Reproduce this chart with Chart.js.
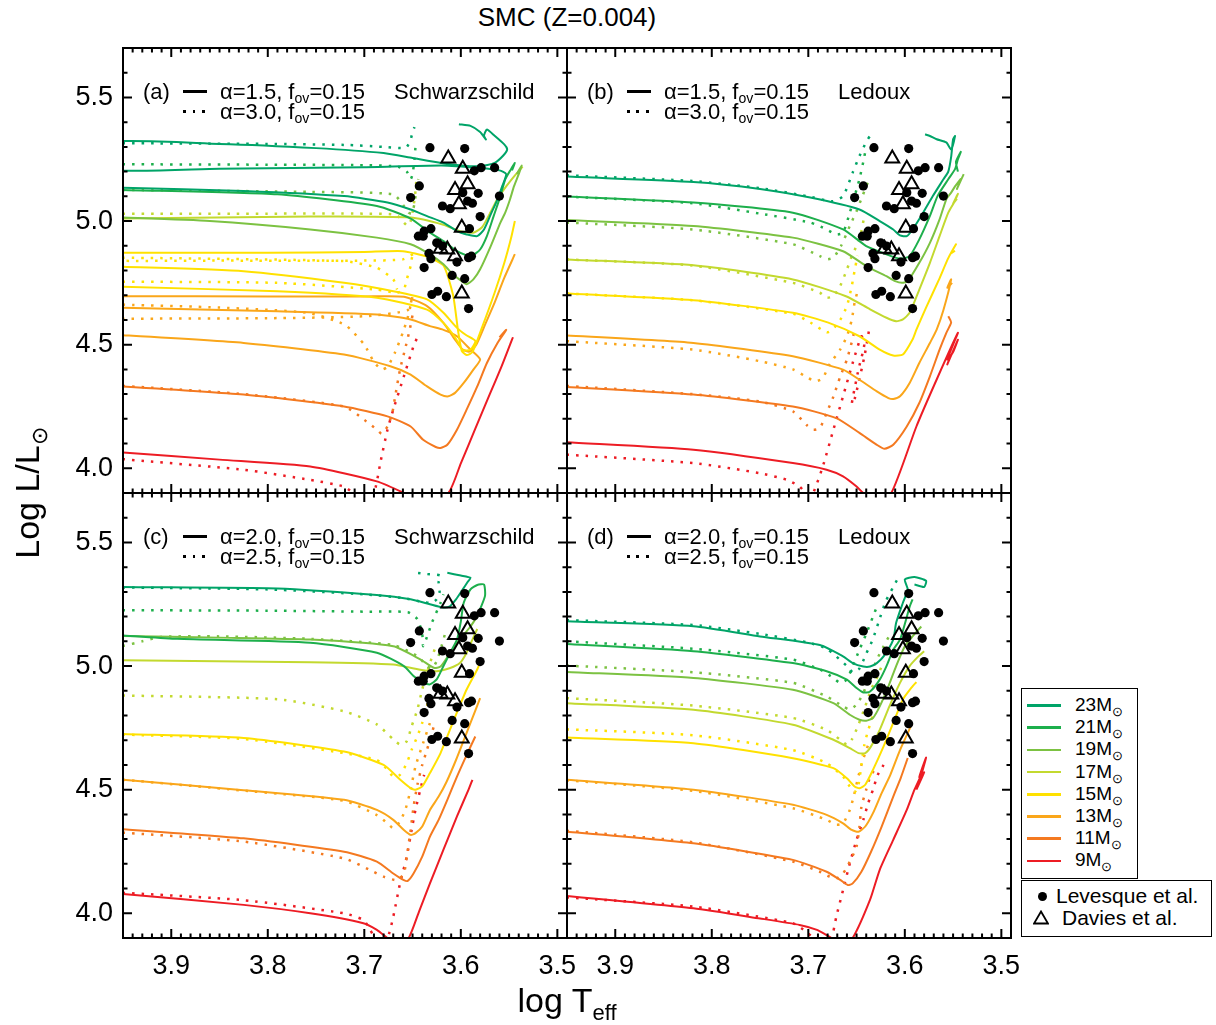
<!DOCTYPE html>
<html><head><meta charset="utf-8">
<script src="https://cdn.jsdelivr.net/npm/chart.js@4.4.1/dist/chart.umd.min.js"></script>
<style>
body{margin:0;background:#fff;width:1216px;height:1025px;position:relative;overflow:hidden;font-family:'Liberation Sans',Arial,Helvetica,sans-serif;color:#000;}
canvas{position:absolute;}
.t{position:absolute;white-space:nowrap;z-index:5;}
.sub{font-size:0.64em;position:relative;top:0.3em;}
.box{position:absolute;border:1.5px solid #000;box-sizing:border-box;z-index:5;background:#fff;}
</style></head><body>
<script>
// ---------------- DATA ----------------
const MASSES = [23, 21, 19, 17, 15, 13, 11, 9];
const X_TICKS = [3.9, 3.8, 3.7, 3.6, 3.5];
const Y_TICKS = [4.0, 4.5, 5.0, 5.5];
const X_MIN = 3.49, X_MAX = 3.95, Y_MIN = 3.9, Y_MAX = 5.7;

// Observations
const levesqueT = [3.632,3.596,3.586,3.579,3.565,3.643,3.652,3.598,3.582,3.560,3.619,3.611,3.593,3.588,3.580,3.631,3.638,3.644,3.639,3.625,3.619,3.633,3.631,3.604,3.592,3.589,3.638,3.609,3.596,3.630,3.624,3.615,3.592,3.591];
const levesqueL = [5.297,5.293,5.203,5.216,5.216,5.142,5.095,5.115,5.112,5.101,5.061,5.050,5.081,5.072,5.018,4.969,4.959,4.939,4.939,4.912,4.899,4.869,4.848,4.834,4.852,4.858,4.812,4.780,4.767,4.703,4.716,4.694,4.646,4.969];
const daviesT = [3.613,3.598,3.593,3.606,3.602,3.599,3.621,3.614,3.606,3.599];
const daviesL = [5.253,5.212,5.149,5.126,5.068,4.973,4.888,4.885,4.858,4.707];

// Panel (a) Schwarzschild: solid alpha=1.5, dotted alpha=3.0
const aS23 = [[3.97,5.137],[3.95,5.135],[3.825,5.122],[3.721,5.101],[3.676,5.075],[3.652,5.047],[3.635,5.02],[3.618,4.994],[3.604,4.959],[3.594,4.946],[3.583,4.939],[3.576,4.966],[3.569,5.027],[3.562,5.088],[3.557,5.142],[3.553,5.19],[3.56,5.205],[3.58,5.215],[3.62,5.225],[3.70,5.218],[3.85,5.212],[3.97,5.21],[3.97,5.318],[3.85,5.312],[3.75,5.295],[3.68,5.275],[3.65,5.255],[3.62,5.235],[3.60,5.225],[3.58,5.222],[3.565,5.235],[3.556,5.265],[3.552,5.29],[3.555,5.31],[3.565,5.345],[3.573,5.37],[3.576,5.345],[3.574,5.33],[3.58,5.36],[3.59,5.385],[3.602,5.392]];
const aS21 = [[3.97,5.128],[3.95,5.126],[3.79,5.108],[3.687,5.061],[3.652,5.01],[3.632,4.953],[3.618,4.919],[3.604,4.878],[3.594,4.861],[3.589,4.858],[3.58,4.885],[3.573,4.939],[3.566,5.02],[3.559,5.101],[3.554,5.169],[3.548,5.21],[3.544,5.235],[3.547,5.205]];
const aS19 = [[3.97,5.016],[3.95,5.014],[3.86,5.0],[3.756,4.966],[3.687,4.933],[3.652,4.906],[3.632,4.865],[3.618,4.825],[3.608,4.784],[3.599,4.757],[3.594,4.744],[3.587,4.764],[3.58,4.805],[3.569,4.899],[3.559,4.994],[3.554,5.034],[3.549,5.088],[3.545,5.14],[3.54,5.19],[3.537,5.225],[3.542,5.19]];
const aS17 = [[3.97,5.01],[3.95,5.01],[3.756,5.018],[3.652,5.014],[3.618,4.985],[3.601,4.959],[3.587,4.953],[3.578,4.975],[3.57,5.03],[3.562,5.09],[3.553,5.14],[3.545,5.18],[3.536,5.22]];
const aS15 = [[3.97,4.736],[3.95,4.734],[3.79,4.716],[3.687,4.69],[3.635,4.642],[3.618,4.588],[3.606,4.53],[3.598,4.478],[3.59,4.48],[3.585,4.515],[3.595,4.54],[3.604,4.568],[3.618,4.629],[3.635,4.683],[3.67,4.716],[3.721,4.75],[3.825,4.797],[3.95,4.815],[3.97,4.817],[3.97,4.874],[3.95,4.872],[3.80,4.872],[3.70,4.875],[3.66,4.878],[3.635,4.856],[3.618,4.82],[3.608,4.70],[3.603,4.56],[3.599,4.475],[3.594,4.458],[3.588,4.47],[3.578,4.57],[3.565,4.71],[3.555,4.83],[3.548,4.93],[3.544,5.0]];
const aS13 = [[3.97,4.54],[3.95,4.538],[3.825,4.507],[3.721,4.46],[3.673,4.413],[3.652,4.379],[3.635,4.331],[3.621,4.298],[3.613,4.291],[3.606,4.305],[3.597,4.345],[3.587,4.399],[3.58,4.44],[3.59,4.48],[3.604,4.534],[3.618,4.56],[3.632,4.575],[3.652,4.602],[3.687,4.622],[3.79,4.635],[3.95,4.649],[3.97,4.65],[3.97,4.698],[3.95,4.696],[3.80,4.695],[3.70,4.695],[3.659,4.694],[3.635,4.656],[3.618,4.588],[3.606,4.52],[3.598,4.48],[3.591,4.472],[3.584,4.50],[3.575,4.58],[3.565,4.67],[3.555,4.77],[3.544,4.866]];
const aS11 = [[3.97,4.333],[3.95,4.331],[3.825,4.298],[3.721,4.25],[3.676,4.21],[3.652,4.169],[3.639,4.115],[3.626,4.086],[3.621,4.082],[3.614,4.095],[3.604,4.156],[3.594,4.237],[3.583,4.331],[3.573,4.426],[3.562,4.507],[3.553,4.56],[3.56,4.53]];
const aS9 = [[3.97,4.07],[3.95,4.064],[3.85,4.035],[3.756,4.007],[3.687,3.947],[3.659,3.90],[3.64,3.86],[3.613,3.90],[3.60,4.02],[3.585,4.16],[3.57,4.30],[3.558,4.41],[3.549,4.50],[3.546,4.53]];
const aD23 = [[3.97,5.318],[3.95,5.315],[3.80,5.312],[3.72,5.308],[3.68,5.30],[3.662,5.295],[3.656,5.30],[3.652,5.33],[3.65,5.36],[3.648,5.38]];
const aD21 = [[3.97,5.233],[3.95,5.23],[3.80,5.228],[3.70,5.226],[3.665,5.22],[3.656,5.20],[3.652,5.17],[3.65,5.19],[3.648,5.25],[3.647,5.30]];
const aD19 = [[3.97,5.128],[3.95,5.126],[3.756,5.118],[3.67,5.108],[3.659,5.061],[3.654,5.034],[3.651,5.03],[3.648,5.07],[3.646,5.13],[3.644,5.17]];
const aD17 = [[3.97,5.033],[3.95,5.03],[3.80,5.03],[3.70,5.03],[3.667,5.025],[3.659,4.994],[3.655,4.98],[3.652,5.0],[3.649,5.06],[3.647,5.12],[3.646,5.17]];
const aD15 = [[3.97,4.757],[3.95,4.755],[3.79,4.75],[3.687,4.723],[3.666,4.71],[3.659,4.723],[3.656,4.764],[3.652,4.818],[3.65,4.865],[3.648,4.87],[3.66,4.845],[3.70,4.84],[3.85,4.84],[3.97,4.84],[3.97,4.853],[3.95,4.852],[3.721,4.838],[3.687,4.811],[3.67,4.764],[3.666,4.723]];
const aD13 = [[3.97,4.664],[3.95,4.662],[3.85,4.65],[3.759,4.629],[3.72,4.58],[3.70,4.50],[3.69,4.43],[3.682,4.40],[3.676,4.41],[3.668,4.47],[3.66,4.55],[3.655,4.61],[3.652,4.66],[3.65,4.70],[3.655,4.64],[3.70,4.615],[3.80,4.607],[3.95,4.605],[3.97,4.605]];
const aD11 = [[3.97,4.335],[3.95,4.333],[3.825,4.30],[3.721,4.25],[3.70,4.196],[3.687,4.156],[3.682,4.14],[3.676,4.169],[3.671,4.224],[3.668,4.291],[3.663,4.399],[3.657,4.494],[3.653,4.56],[3.65,4.62]];
const aD9 = [[3.97,4.045],[3.95,4.037],[3.825,3.994],[3.756,3.953],[3.721,3.926],[3.71,3.895],[3.70,3.87],[3.69,3.90],[3.683,4.03],[3.676,4.156],[3.67,4.237],[3.659,4.372],[3.649,4.494],[3.645,4.53]];

// Panel (b) Ledoux: solid alpha=1.5, dotted alpha=3.0
const bS23 = [[3.97,5.185],[3.95,5.18],[3.819,5.158],[3.75,5.13],[3.698,5.095],[3.647,5.047],[3.626,5.0],[3.612,4.966],[3.605,4.942],[3.598,4.939],[3.592,4.966],[3.581,5.034],[3.571,5.101],[3.56,5.169],[3.555,5.20],[3.552,5.26],[3.55,5.331],[3.548,5.344],[3.552,5.29],[3.557,5.318],[3.567,5.331],[3.574,5.344],[3.579,5.351]];
const bS21 = [[3.97,5.103],[3.95,5.099],[3.819,5.075],[3.716,5.034],[3.664,4.966],[3.64,4.899],[3.619,4.865],[3.609,4.851],[3.602,4.849],[3.595,4.858],[3.585,4.926],[3.574,5.021],[3.566,5.102],[3.555,5.169],[3.548,5.21],[3.545,5.25],[3.542,5.28],[3.547,5.24],[3.545,5.2]];
const bS19 = [[3.97,5.008],[3.95,5.004],[3.819,4.98],[3.716,4.933],[3.664,4.878],[3.64,4.818],[3.619,4.777],[3.61,4.757],[3.603,4.75],[3.597,4.757],[3.585,4.831],[3.574,4.912],[3.564,5.007],[3.557,5.088],[3.552,5.115],[3.548,5.14],[3.542,5.17],[3.546,5.13],[3.539,5.19]];
const bS17 = [[3.97,4.85],[3.95,4.845],[3.819,4.821],[3.716,4.764],[3.661,4.696],[3.636,4.643],[3.619,4.609],[3.609,4.595],[3.602,4.602],[3.595,4.629],[3.585,4.723],[3.574,4.831],[3.564,4.939],[3.555,5.034],[3.549,5.075],[3.545,5.11],[3.55,5.07],[3.546,5.09]];
const bS15 = [[3.97,4.712],[3.95,4.707],[3.819,4.68],[3.716,4.629],[3.68,4.59],[3.647,4.534],[3.626,4.48],[3.612,4.456],[3.602,4.46],[3.592,4.521],[3.588,4.561],[3.578,4.65],[3.565,4.76],[3.555,4.85],[3.547,4.906],[3.552,4.87],[3.548,4.88]];
const bS13 = [[3.97,4.54],[3.95,4.537],[3.819,4.507],[3.716,4.453],[3.664,4.399],[3.647,4.358],[3.629,4.311],[3.617,4.284],[3.612,4.28],[3.605,4.291],[3.595,4.345],[3.585,4.426],[3.574,4.507],[3.567,4.561],[3.56,4.64],[3.552,4.764],[3.556,4.73],[3.551,4.75]];
const bS11 = [[3.97,4.333],[3.95,4.329],[3.819,4.298],[3.716,4.25],[3.671,4.203],[3.647,4.143],[3.629,4.095],[3.621,4.079],[3.612,4.095],[3.598,4.169],[3.585,4.264],[3.574,4.372],[3.564,4.48],[3.557,4.548],[3.552,4.59],[3.555,4.615]];
const bS9 = [[3.97,4.11],[3.95,4.105],[3.819,4.075],[3.716,4.021],[3.681,3.994],[3.664,3.967],[3.65,3.926],[3.643,3.90],[3.63,3.87],[3.614,3.90],[3.588,4.169],[3.567,4.359],[3.545,4.548],[3.556,4.44],[3.55,4.47],[3.545,4.52],[3.556,4.42],[3.552,4.46]];
const bD23 = [[3.97,5.19],[3.95,5.185],[3.82,5.162],[3.75,5.133],[3.70,5.10],[3.675,5.08],[3.664,5.101],[3.654,5.196],[3.647,5.263],[3.64,5.32],[3.636,5.344],[3.633,5.351]];
const bD21 = [[3.97,5.103],[3.95,5.099],[3.82,5.072],[3.75,5.03],[3.698,4.994],[3.681,4.966],[3.671,4.946],[3.664,4.953],[3.657,5.034],[3.652,5.101],[3.647,5.17],[3.643,5.24],[3.64,5.30]];
const bD19 = [[3.97,4.997],[3.95,4.994],[3.82,4.966],[3.716,4.906],[3.688,4.858],[3.681,4.845],[3.674,4.852],[3.666,4.9],[3.657,4.98],[3.65,5.04],[3.644,5.10],[3.638,5.16]];
const bD17 = [[3.97,4.85],[3.95,4.845],[3.82,4.82],[3.716,4.75],[3.688,4.71],[3.681,4.69],[3.674,4.696],[3.667,4.737],[3.66,4.804],[3.655,4.858],[3.65,4.9],[3.645,4.96],[3.642,5.02]];
const bD15 = [[3.97,4.712],[3.95,4.707],[3.82,4.68],[3.716,4.625],[3.698,4.59],[3.681,4.55],[3.675,4.56],[3.667,4.60],[3.66,4.656],[3.655,4.737],[3.652,4.80],[3.649,4.86]];
const bD13 = [[3.97,4.517],[3.95,4.514],[3.82,4.48],[3.75,4.433],[3.716,4.40],[3.70,4.365],[3.692,4.352],[3.685,4.365],[3.678,4.42],[3.667,4.48],[3.66,4.534],[3.655,4.60],[3.652,4.67],[3.648,4.73]];
const bD11 = [[3.97,4.335],[3.95,4.333],[3.82,4.30],[3.75,4.27],[3.716,4.23],[3.702,4.176],[3.695,4.156],[3.688,4.163],[3.681,4.224],[3.674,4.29],[3.667,4.37],[3.66,4.44],[3.655,4.51],[3.652,4.56]];
const bD9 = [[3.97,4.06],[3.95,4.055],[3.819,4.021],[3.75,3.98],[3.722,3.953],[3.709,3.926],[3.70,3.89],[3.695,3.90],[3.685,4.007],[3.674,4.156],[3.664,4.291],[3.654,4.426],[3.645,4.534],[3.642,4.50],[3.648,4.40],[3.655,4.26],[3.652,4.28],[3.642,4.45],[3.637,4.56]];

// Panel (c) Schwarzschild: solid alpha=2.0, dotted alpha=2.5
const cS23 = [[3.97,5.322],[3.95,5.32],[3.79,5.314],[3.687,5.287],[3.652,5.27],[3.632,5.25],[3.62,5.238],[3.612,5.24],[3.605,5.27],[3.598,5.31],[3.593,5.34],[3.59,5.357],[3.60,5.366],[3.614,5.377]];
const cS21 = [[3.97,5.127],[3.95,5.124],[3.894,5.11],[3.756,5.094],[3.687,5.054],[3.659,5.0],[3.649,4.96],[3.639,4.932],[3.632,4.926],[3.625,4.946],[3.618,5.0],[3.611,5.054],[3.604,5.107],[3.60,5.18],[3.597,5.256],[3.59,5.31],[3.583,5.328],[3.576,5.33],[3.575,5.283],[3.583,5.202]];
const cS19 = [[3.97,5.127],[3.95,5.122],[3.85,5.115],[3.756,5.107],[3.67,5.08],[3.642,5.027],[3.628,4.993],[3.621,4.998],[3.611,5.054],[3.601,5.107],[3.59,5.16],[3.583,5.2],[3.578,5.22]];
const cS17 = [[3.97,5.025],[3.95,5.023],[3.756,5.015],[3.67,5.006],[3.642,4.985],[3.625,4.979],[3.611,4.992],[3.601,5.012],[3.594,5.054],[3.588,5.107],[3.583,5.15]];
const cS15 = [[3.97,4.728],[3.95,4.725],[3.825,4.709],[3.721,4.654],[3.68,4.60],[3.663,4.541],[3.652,4.506],[3.647,4.50],[3.64,4.513],[3.632,4.567],[3.621,4.648],[3.607,4.784],[3.594,4.905],[3.583,4.986],[3.58,5.013]];
const cS13 = [[3.97,4.543],[3.95,4.54],[3.828,4.499],[3.721,4.459],[3.687,4.418],[3.67,4.378],[3.659,4.337],[3.652,4.317],[3.647,4.324],[3.64,4.351],[3.632,4.418],[3.623,4.472],[3.615,4.53],[3.605,4.62],[3.595,4.72],[3.585,4.82],[3.58,4.87]];
const cS11 = [[3.97,4.343],[3.95,4.34],[3.825,4.303],[3.721,4.249],[3.687,4.209],[3.67,4.161],[3.659,4.134],[3.655,4.131],[3.649,4.161],[3.64,4.229],[3.632,4.31],[3.623,4.378],[3.614,4.459],[3.604,4.553],[3.594,4.64],[3.585,4.715]];
const cS9 = [[3.97,4.082],[3.95,4.078],[3.825,4.034],[3.756,4.0],[3.701,3.96],[3.687,3.933],[3.676,3.90],[3.665,3.87],[3.654,3.90],[3.643,4.01],[3.632,4.121],[3.618,4.257],[3.604,4.392],[3.592,4.50],[3.588,4.54]];
const cD23 = [[3.97,5.322],[3.95,5.318],[3.80,5.31],[3.70,5.29],[3.66,5.275],[3.64,5.26],[3.63,5.255],[3.625,5.27],[3.622,5.30],[3.623,5.34],[3.621,5.366],[3.635,5.372],[3.647,5.378]];
const cD21 = [[3.97,5.228],[3.95,5.226],[3.80,5.224],[3.70,5.22],[3.655,5.218],[3.645,5.19],[3.64,5.13],[3.639,5.08],[3.634,5.13],[3.63,5.175],[3.621,5.256],[3.618,5.29]];
const cD19 = [[3.97,5.078],[3.95,5.082],[3.93,5.10],[3.91,5.118],[3.85,5.12],[3.756,5.11],[3.67,5.085],[3.645,5.04],[3.635,5.0],[3.63,4.99],[3.625,5.02],[3.62,5.08],[3.615,5.15]];
const cD17 = [[3.97,4.884],[3.95,4.881],[3.79,4.866],[3.721,4.817],[3.687,4.764],[3.67,4.703],[3.663,4.683],[3.656,4.696],[3.651,4.756],[3.645,4.824],[3.64,4.905],[3.633,5.0],[3.626,5.08]];
const cD15 = [[3.97,4.728],[3.95,4.723],[3.825,4.705],[3.721,4.648],[3.687,4.62],[3.676,4.581],[3.67,4.553],[3.663,4.56],[3.656,4.607],[3.651,4.661],[3.645,4.716],[3.64,4.77],[3.635,4.838],[3.632,4.88]];
const cD13 = [[3.97,4.543],[3.95,4.54],[3.828,4.497],[3.721,4.455],[3.687,4.397],[3.676,4.364],[3.67,4.344],[3.663,4.371],[3.657,4.425],[3.652,4.50],[3.647,4.594],[3.639,4.689],[3.632,4.77]];
const cD11 = [[3.97,4.33],[3.95,4.326],[3.825,4.29],[3.721,4.222],[3.694,4.175],[3.68,4.148],[3.666,4.134],[3.659,4.161],[3.656,4.229],[3.652,4.337],[3.649,4.43],[3.645,4.52],[3.64,4.6],[3.635,4.662],[3.628,4.756]];
const cD9 = [[3.97,4.086],[3.95,4.083],[3.825,4.053],[3.721,4.0],[3.701,3.973],[3.694,3.933],[3.685,3.88],[3.676,3.9],[3.67,3.986],[3.663,4.121],[3.656,4.229],[3.651,4.337],[3.647,4.418],[3.642,4.50],[3.638,4.56]];

// Panel (d) Ledoux: solid alpha=2.0, dotted alpha=2.5
const dS23 = [[3.97,5.186],[3.95,5.181],[3.819,5.161],[3.75,5.12],[3.688,5.085],[3.664,5.039],[3.654,5.012],[3.643,4.998],[3.636,4.998],[3.629,5.012],[3.622,5.039],[3.612,5.107],[3.609,5.175],[3.602,5.256],[3.597,5.31],[3.60,5.35],[3.59,5.36],[3.578,5.345],[3.58,5.32],[3.59,5.33]];
const dS21 = [[3.97,5.093],[3.95,5.089],[3.819,5.06],[3.716,5.012],[3.681,4.979],[3.66,4.945],[3.65,4.911],[3.643,4.893],[3.636,4.897],[3.626,4.945],[3.619,5.0],[3.612,5.066],[3.605,5.107],[3.60,5.17],[3.595,5.24],[3.592,5.27]];
const dS19 = [[3.97,4.98],[3.95,4.976],[3.819,4.952],[3.716,4.904],[3.674,4.85],[3.657,4.803],[3.647,4.783],[3.64,4.779],[3.633,4.79],[3.626,4.837],[3.617,4.918],[3.609,5.0],[3.60,5.08],[3.592,5.12],[3.583,5.16]];
const dS17 = [[3.97,4.854],[3.95,4.85],[3.819,4.823],[3.716,4.763],[3.674,4.702],[3.657,4.668],[3.648,4.648],[3.641,4.648],[3.635,4.675],[3.626,4.742],[3.616,4.837],[3.605,4.932],[3.595,5.0],[3.586,5.039],[3.58,5.06]];
const dS15 = [[3.97,4.715],[3.95,4.711],[3.819,4.688],[3.716,4.627],[3.674,4.587],[3.66,4.546],[3.652,4.513],[3.647,4.506],[3.641,4.52],[3.633,4.58],[3.622,4.675],[3.612,4.77],[3.602,4.865],[3.592,4.918],[3.588,4.935]];
const dS13 = [[3.97,4.545],[3.95,4.54],[3.819,4.50],[3.716,4.439],[3.681,4.398],[3.664,4.364],[3.655,4.337],[3.648,4.33],[3.641,4.351],[3.633,4.405],[3.624,4.486],[3.615,4.56],[3.605,4.66],[3.593,4.763]];
const dS11 = [[3.97,4.334],[3.95,4.33],[3.819,4.283],[3.716,4.216],[3.681,4.168],[3.667,4.135],[3.659,4.114],[3.654,4.121],[3.645,4.168],[3.635,4.249],[3.624,4.351],[3.612,4.472],[3.604,4.55],[3.597,4.628]];
const dS9 = [[3.97,4.075],[3.95,4.07],[3.819,4.02],[3.75,3.979],[3.709,3.953],[3.691,3.933],[3.681,3.912],[3.676,3.90],[3.665,3.87],[3.654,3.90],[3.636,4.055],[3.626,4.176],[3.612,4.297],[3.598,4.418],[3.59,4.50],[3.583,4.56],[3.578,4.63],[3.585,4.55],[3.58,4.57],[3.588,4.50]];
const dD23 = [[3.97,5.19],[3.95,5.186],[3.819,5.166],[3.75,5.13],[3.70,5.095],[3.681,5.07],[3.66,5.0],[3.654,4.975],[3.647,4.99],[3.64,5.05],[3.633,5.11],[3.627,5.18],[3.62,5.26],[3.612,5.32],[3.605,5.37]];
const dD21 = [[3.97,5.104],[3.95,5.1],[3.819,5.07],[3.716,5.026],[3.688,4.986],[3.674,4.952],[3.667,4.932],[3.66,4.946],[3.654,5.0],[3.647,5.066],[3.64,5.13],[3.633,5.2],[3.628,5.25]];
const dD19 = [[3.97,5.006],[3.95,5.002],[3.819,4.975],[3.716,4.932],[3.681,4.877],[3.664,4.837],[3.657,4.824],[3.65,4.844],[3.643,4.891],[3.636,4.958],[3.629,5.026],[3.622,5.08],[3.615,5.13]];
const dD17 = [[3.97,4.874],[3.95,4.87],[3.819,4.84],[3.716,4.79],[3.681,4.742],[3.667,4.702],[3.66,4.682],[3.655,4.702],[3.648,4.763],[3.641,4.837],[3.635,4.905],[3.628,4.96],[3.622,5.02]];
const dD15 = [[3.97,4.748],[3.95,4.744],[3.819,4.72],[3.716,4.66],[3.681,4.607],[3.664,4.553],[3.657,4.513],[3.652,4.49],[3.648,4.52],[3.645,4.60],[3.642,4.68],[3.638,4.74],[3.633,4.80]];
const dD13 = [[3.97,4.543],[3.95,4.538],[3.819,4.495],[3.716,4.425],[3.681,4.378],[3.671,4.358],[3.664,4.364],[3.657,4.418],[3.653,4.472],[3.649,4.54],[3.645,4.60],[3.64,4.66],[3.636,4.70]];
const dD11 = [[3.97,4.338],[3.95,4.334],[3.819,4.287],[3.716,4.209],[3.688,4.168],[3.678,4.148],[3.671,4.141],[3.664,4.161],[3.657,4.209],[3.65,4.27],[3.647,4.35],[3.645,4.43],[3.64,4.50],[3.636,4.55],[3.63,4.59]];
const dD9 = [[3.97,4.068],[3.95,4.064],[3.819,4.027],[3.716,3.96],[3.702,3.925],[3.695,3.90],[3.685,3.87],[3.676,3.90],[3.671,3.986],[3.664,4.094],[3.657,4.202],[3.65,4.297],[3.643,4.378],[3.638,4.445],[3.633,4.50],[3.628,4.56],[3.622,4.60]];

// Panel labels
const panelLetters = ['(a)', '(b)', '(c)', '(d)'];
const solidAlpha = ['1.5', '1.5', '2.0', '2.0'];
const dottedAlpha = ['3.0', '3.0', '2.5', '2.5'];
const fovValue = '0.15';
const criteria = ['Schwarzschild', 'Ledoux', 'Schwarzschild', 'Ledoux'];

// ---------------- STYLE ----------------
const COLORS = ['#00A468', '#1DAF4C', '#7CC242', '#C3D92F', '#FFE100', '#FAA61A', '#F47920', '#ED1C24'];
const FONT = "'Liberation Sans', Arial, Helvetica, sans-serif";
const PANELS = [
  {left: 123, top: 48, solid: [aS23,aS21,aS19,aS17,aS15,aS13,aS11,aS9], dotted: [aD23,aD21,aD19,aD17,aD15,aD13,aD11,aD9], showY: true, showX: false},
  {left: 567, top: 48, solid: [bS23,bS21,bS19,bS17,bS15,bS13,bS11,bS9], dotted: [bD23,bD21,bD19,bD17,bD15,bD13,bD11,bD9], showY: false, showX: false},
  {left: 123, top: 493, solid: [cS23,cS21,cS19,cS17,cS15,cS13,cS11,cS9], dotted: [cD23,cD21,cD19,cD17,cD15,cD13,cD11,cD9], showY: true, showX: true},
  {left: 567, top: 493, solid: [dS23,dS21,dS19,dS17,dS15,dS13,dS11,dS9], dotted: [dD23,dD21,dD19,dD17,dD15,dD13,dD11,dD9], showY: false, showX: true}
];
const AXW = 80, AXH = 60, PW = 444, PH = 445, PAD = 5, PADR = 30;

const tickPlugin = {
  id: 'inTicks',
  afterDatasetsDraw(chart) {
    const {ctx, chartArea: a, scales: {x, y}} = chart;
    ctx.save();
    ctx.strokeStyle = '#000'; ctx.lineWidth = 2; ctx.lineCap = 'butt';
    ctx.beginPath();
    const nx = Math.round((X_MAX - X_MIN) * 100);
    for (let i = 0; i <= nx; i++) {
      const v = X_MIN + i / 100;
      const px = x.getPixelForValue(v);
      const major = Math.abs(v * 10 - Math.round(v * 10)) < 1e-6;
      const len = major ? 9 : 4.5;
      ctx.moveTo(px, a.bottom); ctx.lineTo(px, a.bottom - len);
      ctx.moveTo(px, a.top); ctx.lineTo(px, a.top + len);
    }
    const ny = Math.round((Y_MAX - Y_MIN) * 10);
    for (let i = 0; i <= ny; i++) {
      const v = Y_MIN + i / 10;
      const py = y.getPixelForValue(v);
      const major = Math.abs(v * 2 - Math.round(v * 2)) < 1e-6;
      const len = major ? 9 : 4.5;
      ctx.moveTo(a.left, py); ctx.lineTo(a.left + len, py);
      ctx.moveTo(a.right, py); ctx.lineTo(a.right - len, py);
    }
    ctx.stroke();
    ctx.strokeRect(a.left, a.top, a.right - a.left, a.bottom - a.top);
    ctx.restore();
  }
};

function toXY(arr) { return arr.map(p => ({x: p[0], y: p[1]})); }
function fixScale(s, w, h) {
  if (w !== null) s.width = w;
  if (h !== null) s.height = h;
  s.paddingTop = 0; s.paddingBottom = 0; s.paddingLeft = 0; s.paddingRight = 0;
}

function makePanel(p) {
  const cv = document.createElement('canvas');
  cv.width = AXW + PW + PADR; cv.height = PAD + PH + AXH;
  cv.style.left = (p.left - AXW) + 'px'; cv.style.top = (p.top - PAD) + 'px';
  document.body.appendChild(cv);
  const datasets = [];
  datasets.push({data: levesqueT.map((t, i) => ({x: t, y: levesqueL[i]})), showLine: false, pointStyle: 'circle', pointRadius: 4.6, backgroundColor: '#000', borderColor: '#000', borderWidth: 0, order: 0});
  datasets.push({data: daviesT.map((t, i) => ({x: t, y: daviesL[i]})), showLine: false, pointStyle: 'triangle', pointRadius: 8, backgroundColor: 'rgba(255,255,255,0)', borderColor: '#000', borderWidth: 2, order: 0});
  for (let i = 0; i < MASSES.length; i++) {
    datasets.push({data: toXY(p.solid[i]), showLine: true, borderColor: COLORS[i], borderWidth: 2, pointRadius: 0, tension: 0.2, fill: false, order: 1});
    datasets.push({data: toXY(p.dotted[i]), showLine: true, borderColor: COLORS[i], borderWidth: 2.5, borderDash: [2.5, 7], borderCapStyle: 'butt', pointRadius: 0, tension: 0.2, fill: false, order: 2});
  }
  new Chart(cv, {
    type: 'scatter',
    data: {datasets},
    options: {
      responsive: false, animation: false, events: [], devicePixelRatio: 1,
      layout: {padding: {top: PAD, right: PADR, left: 0, bottom: 0}, autoPadding: false},
      plugins: {legend: {display: false}, tooltip: {enabled: false}},
      scales: {
        x: {type: 'linear', reverse: true, min: X_MIN, max: X_MAX,
          grid: {display: false, drawTicks: false}, border: {display: false},
          afterBuildTicks: s => { s.ticks = X_TICKS.map(v => ({value: v})); },
          afterFit: s => fixScale(s, null, AXH),
          ticks: {display: p.showX, autoSkip: false, maxRotation: 0, minRotation: 0, padding: 12, color: '#000', font: {family: FONT, size: 27}, callback: v => Number(v).toFixed(1)}},
        y: {type: 'linear', min: Y_MIN, max: Y_MAX,
          grid: {display: false, drawTicks: false}, border: {display: false},
          afterBuildTicks: s => { s.ticks = Y_TICKS.map(v => ({value: v})); },
          afterFit: s => fixScale(s, AXW, null),
          ticks: {display: p.showY, autoSkip: false, padding: 10, color: '#000', font: {family: FONT, size: 27}, callback: v => Number(v).toFixed(1)}}
      }
    },
    plugins: [tickPlugin]
  });
}

function addText(html, left, top, size, extra) {
  const d = document.createElement('div');
  d.className = 't';
  d.innerHTML = html;
  d.style.left = left + 'px'; d.style.top = top + 'px';
  d.style.fontSize = size + 'px'; d.style.lineHeight = Math.round(size * 1.18) + 'px';
  if (extra) Object.assign(d.style, extra);
  document.body.appendChild(d);
  return d;
}
function addRect(left, top, w, h, bg, extra) {
  const d = document.createElement('div');
  d.style.position = 'absolute'; d.style.zIndex = 6;
  d.style.left = left + 'px'; d.style.top = top + 'px';
  d.style.width = w + 'px'; d.style.height = h + 'px';
  d.style.background = bg;
  if (extra) Object.assign(d.style, extra);
  document.body.appendChild(d);
  return d;
}

PANELS.forEach((p, k) => {
  makePanel(p);
  const L = p.left, T = p.top;
  addText(panelLetters[k], L + 20, T + 31, 22);
  addRect(L + 60, T + 42.4, 24, 2.7, '#000');
  addText('α=' + solidAlpha[k] + ', f<span class="sub">ov</span>=' + fovValue, L + 97, T + 31, 22);
  addText(criteria[k], L + 271, T + 31, 22);
  addRect(L + 60, T + 62.4, 24, 2.7, 'repeating-linear-gradient(to right,#000 0,#000 2.7px,transparent 2.7px,transparent 9.5px)');
  addText('α=' + dottedAlpha[k] + ', f<span class="sub">ov</span>=' + fovValue, L + 97, T + 51, 22);
});

// Title and axis titles
addText('SMC (Z=0.004)', 467, 2, 26, {width: '200px', textAlign: 'center'});
addText('log T<span class="sub" style="font-size:22px;top:8px;">eff</span>', 467, 980, 34, {width: '200px', textAlign: 'center'});
addText('Log L/L<span class="sub" style="font-size:22px;top:8px;">⊙</span>', -73, 473, 34, {width: '200px', height: '40px', textAlign: 'center', transform: 'rotate(-90deg)', transformOrigin: '100px 20px'});

// Mass legend
const mb = document.createElement('div'); mb.className = 'box';
Object.assign(mb.style, {left: '1021px', top: '688px', width: '117px', height: '191px'});
document.body.appendChild(mb);
MASSES.forEach((m, i) => {
  const cy = 705.5 + i * 22.2;
  addRect(1027, cy - 1.25, 34, 2.5, COLORS[i]);
  addText(m + 'M<span class="sub" style="font-size:13px;top:5px;">⊙</span>', 1075, cy - 11.5, 19);
});
// Symbol legend
const sb = document.createElement('div'); sb.className = 'box';
Object.assign(sb.style, {left: '1021px', top: '880px', width: '191px', height: '57px'});
document.body.appendChild(sb);
addRect(1037.5, 891.5, 9, 9, '#000', {borderRadius: '50%'});
addText('Levesque et al.', 1056, 883, 21);
const tri = document.createElement('div');
tri.style.cssText = 'position:absolute;left:1033px;top:910px;z-index:7;width:16px;height:15px;';
tri.innerHTML = '<svg width="16" height="15"><polygon points="8,1.5 15,13.5 1,13.5" fill="none" stroke="#000" stroke-width="1.8"/></svg>';
document.body.appendChild(tri);
addText('Davies et al.', 1062, 905, 21);
</script>
</body></html>
